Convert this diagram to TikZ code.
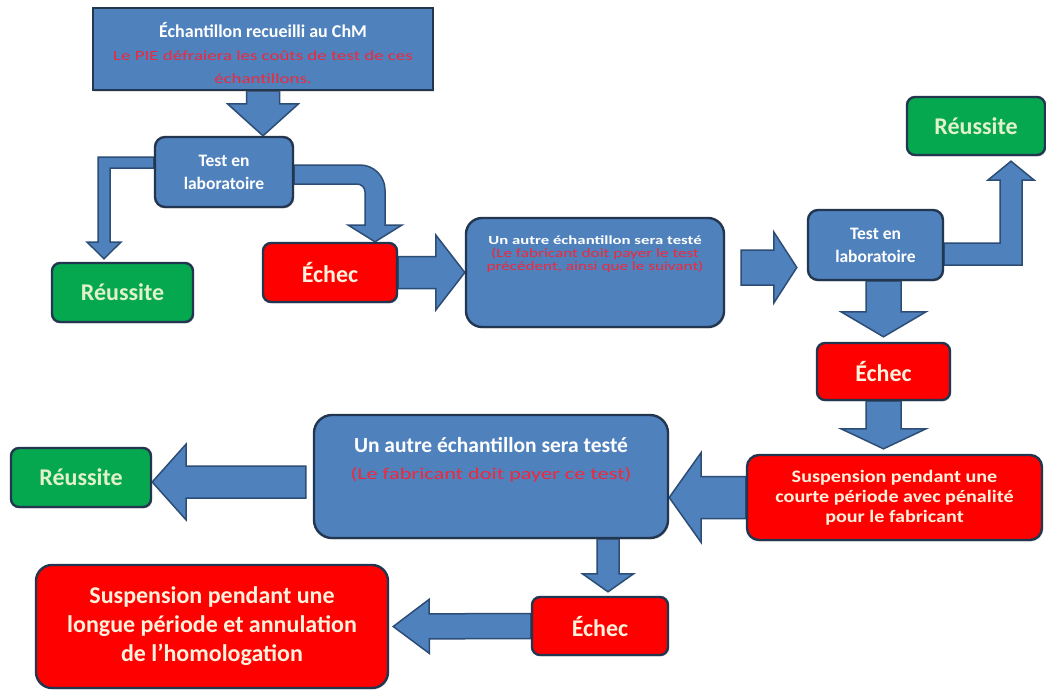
\documentclass[tikz,border=0pt]{standalone}
\usepackage{fontspec}
\setmainfont{Carlito}
\newfontfamily\wideA[FakeStretch=1.35]{Carlito}
\newfontfamily\wideB[FakeStretch=1.15]{Carlito}
\usetikzlibrary{calc,shadows,backgrounds}
\definecolor{boxblue}{HTML}{4F81BD}
\definecolor{edge}{HTML}{22364F}
\definecolor{arredge}{HTML}{2C4D75}
\definecolor{boxred}{HTML}{FF0000}
\definecolor{boxgreen}{HTML}{06A84F}
\definecolor{cream}{HTML}{FFF2DC}
\definecolor{palegreen}{HTML}{E2F2C8}
\definecolor{redtxt}{HTML}{F0283C}
\newcommand\blockarrow[5]{%
  \coordinate (bac) at ($(#2)!#5pt!(#1)$);
  \draw[arr] ($(#1)!#3pt!90:(#2)$) -- ($(bac)!#3pt!90:(#2)$) -- ($(bac)!#4pt!90:(#2)$) -- (#2)
    -- ($(bac)!#4pt!-90:(#2)$) -- ($(bac)!#3pt!-90:(#2)$) -- ($(#1)!#3pt!-90:(#2)$) -- cycle;}
\tikzset{
  base/.style={draw=edge, line width=2.4pt, inner sep=0pt, align=center, text=cream,
    drop shadow={shadow xshift=1.2pt, shadow yshift=-1.5pt, opacity=0.25}},
  bluebox/.style={base, fill=boxblue, text=white},
  redbox/.style={base, fill=boxred},
  greenbox/.style={base, fill=boxgreen, text=palegreen},
  txt/.style={align=center, inner sep=0pt},
  arr/.style={fill=boxblue, draw=arredge, line width=1.5pt, line join=miter},
  bigword/.style={font=\bfseries\fontsize{24}{26}\selectfont},
  testword/.style={font=\bfseries\fontsize{17.5}{23}\selectfont},
}
\begin{document}
\begin{tikzpicture}[x=1pt,y=1pt]
\begin{scope}[on background layer]
\fill[white] (0,0) rectangle (1046,-691);
\end{scope}
\useasboundingbox (0,0) rectangle (1046,-691);

% boxes
\node[bluebox, rounded corners=0pt, minimum width=340pt, minimum height=82pt] (top) at (263,-49) {};
\node[txt, font=\fontsize{18}{23}\selectfont] (topt) at ($(top)+(0,-4)$)
  {\textbf{\textcolor{white}{Échantillon recueilli au ChM}}\\\textcolor{redtxt}{\wideA\fontsize{14}{23}\selectfont Le PIE défraiera les coûts de test de ces}\\\textcolor{redtxt}{\wideA\fontsize{14}{23}\selectfont échantillons.}};

\node[bluebox, rounded corners=10pt, minimum width=138pt, minimum height=70pt, testword] (test1) at (224,-172) {Test en\\laboratoire};
\node[greenbox, rounded corners=8pt, minimum width=141pt, minimum height=59pt, bigword] (ok1) at (122.5,-292.5) {Réussite};
\node[redbox, rounded corners=8pt, minimum width=134pt, minimum height=59pt, bigword] (fail1) at (330,-272.5) {Échec};

\node[bluebox, rounded corners=16pt, minimum width=258pt, minimum height=109pt] (other1) at (595,-272.5) {};
\node[txt, font=\wideA\fontsize{12.4}{13}\selectfont] (other1t) at ($(other1)+(0,18)$)
  {\textbf{\textcolor{white}{Un autre échantillon sera testé}}\\\textcolor{redtxt}{\fontsize{12.7}{13}\selectfont(Le fabricant doit payer le test}\\\textcolor{redtxt}{\fontsize{12.7}{13}\selectfont précédent, ainsi que le suivant)}};

\node[bluebox, rounded corners=10pt, minimum width=135pt, minimum height=70pt, testword] (test2) at (875.5,-245) {Test en\\laboratoire};
\node[greenbox, rounded corners=8pt, minimum width=138pt, minimum height=58pt, bigword] (ok2) at (976,-126) {Réussite};
\node[redbox, rounded corners=8pt, minimum width=133pt, minimum height=57pt, bigword] (fail2) at (883.5,-371.5) {Échec};
\node[redbox, rounded corners=12pt, minimum width=295pt, minimum height=85pt, font=\wideB\bfseries\fontsize{17.5}{20}\selectfont] (susp1) at (894.5,-497.5)
  {Suspension pendant une\\courte période avec pénalité\\pour le fabricant};

\node[bluebox, rounded corners=18pt, minimum width=354pt, minimum height=123pt] (other2) at (491,-476.5) {};
\node[txt, font=\fontsize{21.5}{27}\selectfont] (other2t) at ($(other2)+(0,17)$)
  {\textbf{\textcolor{white}{Un autre échantillon sera testé}}\\\textcolor{redtxt}{\wideA\fontsize{16.5}{27}\selectfont(Le fabricant doit payer ce test)}};
\node[greenbox, rounded corners=8pt, minimum width=140pt, minimum height=59pt, bigword] (ok3) at (81,-477.5) {Réussite};
\node[redbox, rounded corners=8pt, minimum width=136pt, minimum height=58pt, bigword] (fail3) at (600,-626) {Échec};
\node[redbox, rounded corners=16pt, minimum width=352pt, minimum height=123pt, font=\bfseries\fontsize{24}{29}\selectfont] (susp2) at (212,-626.5)
  {Suspension pendant une\\longue période et annulation\\de l'homologation};

% block arrows
\begin{scope}[on background layer]
\coordinate (a1s) at (top.south);
\coordinate (a1e) at (top.south |- test1.north);
\blockarrow{a1s}{a1e}{16.5}{35.5}{32}

\draw[arr] ($(test1.west)+(0,15)$) -- (98,-157) -- (98,-242) -- (87,-242) -- ($(ok1.north)+(-18.5,3)$)
  -- (121,-242) -- (110,-242) -- (110,-168) -- ($(test1.west)+(0,4)$) -- cycle;

\draw[arr] ($(test1.east)+(0,7)$) -- (360,-165) arc[start angle=90,end angle=0,radius=25pt] -- (385,-225)
  -- (402,-225) -- ($(fail1.north)+(45,0)$) -- (348,-225) -- (365,-225) -- (365,-192)
  arc[start angle=0,end angle=90,radius=8pt] -- ($(test1.east)+(0,-12)$) -- cycle;

\coordinate (a4s) at (fail1.east);
\coordinate (a4e) at (fail1.east -| other1.west);
\blockarrow{a4s}{a4e}{16}{37.5}{29}

\coordinate (a5s) at ($(other1.east)+(16,5)$);
\coordinate (a5e) at ($(test2.west)+(-10,-22.5)$);
\blockarrow{a5s}{a5e}{17.5}{35.5}{23}

\draw[arr] ($(test2.east)+(0,2)$) -- (1000,-243) -- (1000,-180) -- (988,-180) -- ($(ok2.south)+(35,-5)$)
  -- (1034,-180) -- (1022,-180) -- (1022,-265) -- ($(test2.east)+(0,-20)$) -- cycle;

\coordinate (a7s) at (test2.south -| fail2.north);
\coordinate (a7e) at ($(fail2.north)+(0,5)$);
\blockarrow{a7s}{a7e}{17.5}{42.5}{25}

\coordinate (a8s) at (fail2.south);
\coordinate (a8e) at ($(fail2.south |- susp1.north)+(0,5)$);
\blockarrow{a8s}{a8e}{17.5}{42.5}{20}

\coordinate (a9s) at (susp1.west);
\coordinate (a9e) at (susp1.west -| other2.east);
\blockarrow{a9s}{a9e}{21}{45}{32}

\coordinate (a10s) at ($(other2.west)+(-7,-5.5)$);
\coordinate (a10e) at (a10s -| ok3.east);
\blockarrow{a10s}{a10e}{16}{38}{34}

\coordinate (a11s) at ($(other2.south)+(117,0)$);
\coordinate (a11e) at ($(a11s |- fail3.north)+(0,4)$);
\blockarrow{a11s}{a11e}{11}{25.5}{18}

\coordinate (a12s) at (fail3.west);
\coordinate (a12e) at ($(susp2.east)+(4,0)$);
\blockarrow{a12s}{a12e}{12.5}{27}{36}
\end{scope}
\end{tikzpicture}
\end{document}
